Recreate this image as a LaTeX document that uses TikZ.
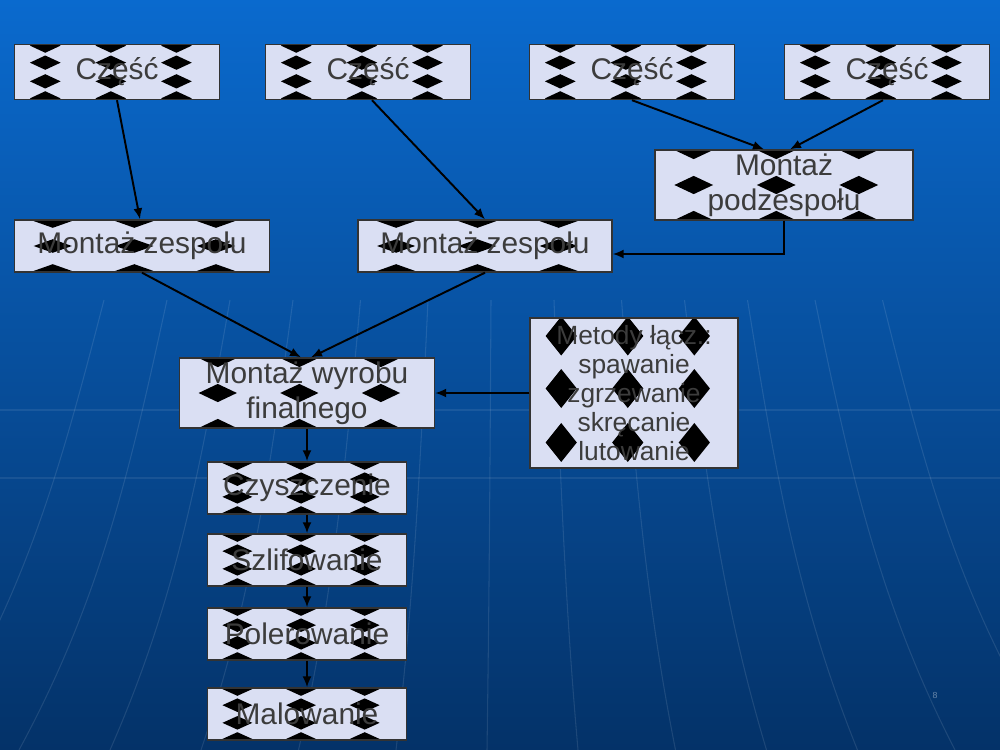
\documentclass[tikz,border=0pt]{standalone}
\usepackage{fontspec}
\setmainfont{Liberation Sans}
\usetikzlibrary{arrows.meta,calc}

\definecolor{tlo1}{RGB}{10,106,206}
\definecolor{tlo2}{RGB}{8,76,158}
\definecolor{tlo4}{RGB}{4,50,104}
\definecolor{boxfill}{RGB}{218,223,243}
\definecolor{boxtext}{RGB}{60,60,60}

\begin{document}
\begin{tikzpicture}[x=0.02cm,y=-0.02cm,
	box/.style={draw=black!80, line width=0.8pt, fill=boxfill, inner sep=0pt,
		align=center, text=boxtext, font=\fontsize{17}{20}\selectfont},
	stars/.style={path picture={
		\fill[black] let \p1=(path picture bounding box.south west),
			\p2=(path picture bounding box.north east),
			\n1={\x2-\x1}, \n2={\y2-\y1} in
			\foreach \fx in {0.15,0.47,0.79} {\foreach \fy in {#1} {
				({\x1+(\fx-0.075)*\n1*1pt},{\y1+\fy*\n2*1pt})
				-- ++({0.075*\n1*1pt},{0.13*\n2*1pt})
				-- ++({0.075*\n1*1pt},{-0.13*\n2*1pt})
				-- ++({-0.075*\n1*1pt},{-0.13*\n2*1pt}) -- cycle
			}};
	}},
	part/.style={box, stars={0.02,0.33,0.67,0.98}, minimum width=4.1cm, minimum height=1.1cm},
	step2/.style={box, stars={0.02,0.33,0.67,0.98}, minimum width=3.98cm, minimum height=1.04cm},
	arr/.style={-{Latex[length=2.2mm,width=1.8mm]}, line width=1.1pt, black}]

	% tlo
	\useasboundingbox (0,0) rectangle (1000,750);
	\shade[top color=tlo1, middle color=tlo2, bottom color=tlo4] (0,0) rectangle (1000,750);
	\foreach \yl in {410,478}
		\draw[white, opacity=0.08, line width=1pt] (0,\yl) -- (1000,\yl);
	\foreach \xt in {60,130,200,270,345,420,490,560,635,705,775,850,925}
		\draw[white, opacity=0.1, line width=0.6pt] ({\xt-(\xt-500)*0.1},300) .. controls (\xt,470) and ({\xt+(\xt-500)*0.08},600) .. ({\xt+(\xt-500)*0.3},750);

	% czesci
	\node[part] (czesc1) at (117,72) {Część};
	\node[part] (czesc2) at (368,72) {Część};
	\node[part] (czesc3) at (632,72) {Część};
	\node[part] (czesc4) at (887,72) {Część};

	% montaze
	\node[box, stars={0.0,0.5,1.0}, minimum width=5.16cm, minimum height=1.4cm] (podzesp) at (784,185) {Montaż\\podzespołu};
	\node[box, stars={0.02,0.5,0.98}, minimum width=5.1cm, minimum height=1.04cm] (zesp1) at (142,246) {Montaż zespołu};
	\node[box, stars={0.02,0.5,0.98}, minimum width=5.08cm, minimum height=1.04cm] (zesp2) at (485,246) {Montaż zespołu};
	\node[box, stars={0.0,0.5,1.0}, minimum width=5.1cm, minimum height=1.4cm] (wyrob) at (307,393) {Montaż wyrobu\\finalnego};
	\node[box, stars={0.17,0.53,0.88}, minimum width=4.16cm, minimum height=3cm,
		font=\fontsize{15}{16.5}\selectfont] (metody) at (634,393) {Metody łącz.:\\spawanie\\zgrzewanie\\skręcanie\\lutowanie};

	% obrobka
	\node[step2] (czysz) at (307,488) {Czyszczenie};
	\node[step2] (szlif) at (307,560) {Szlifowanie};
	\node[step2] (poler) at (307,634) {Polerowanie};
	\node[step2] (malow) at (307,714) {Malowanie};

	\node[text=white, opacity=0.4, font=\tiny] (nr) at (935,695) {8};

	\draw[arr] (czesc1.south) -- ($(zesp1.north)+(-2,0)$);
	\draw[arr] ($(czesc2.south)+(4,0)$) -- (zesp2.north);
	\draw[arr] (czesc3.south) -- ($(podzesp.north)+(-20,0)$);
	\draw[arr] ($(czesc4.south)+(-4,0)$) -- ($(podzesp.north)+(6,0)$);
	\draw[arr] (podzesp.south) |- ($(zesp2.east)+(0,8)$);
	\draw[arr] (zesp1.south) -- ($(wyrob.north)+(-6,0)$);
	\draw[arr] (zesp2.south) -- ($(wyrob.north)+(4,0)$);
	\draw[arr] (metody.west) -- (wyrob.east);
	\draw[arr] (wyrob) -- (czysz);
	\draw[arr] (czysz) -- (szlif);
	\draw[arr] (szlif) -- (poler);
	\draw[arr] (poler) -- (malow);

\end{tikzpicture}
\end{document}
